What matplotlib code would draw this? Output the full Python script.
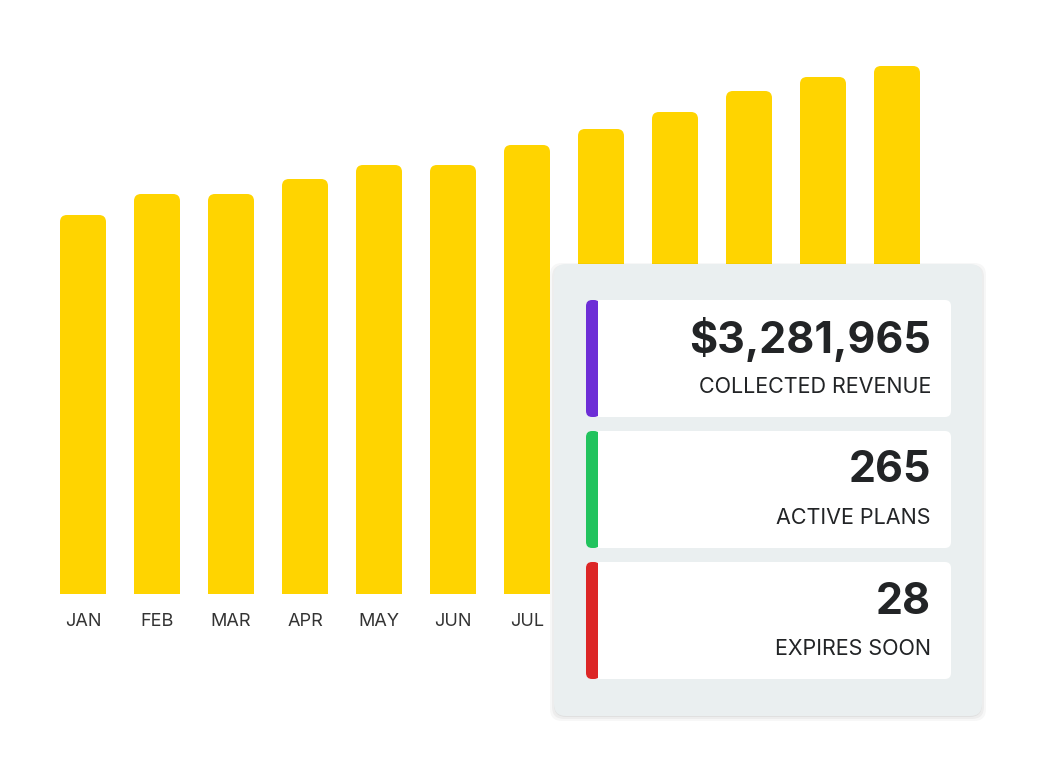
import matplotlib.pyplot as plt
from matplotlib.patches import FancyBboxPatch, Rectangle

months = ["JAN", "FEB", "MAR", "APR", "MAY", "JUN", "JUL", "AUG", "SEP", "OCT", "NOV", "DEC"]
values = [379, 400, 400, 415, 429, 429, 449, 465, 482, 503, 517, 528]
card_values = ["$3,281,965", "265", "28"]
card_labels = ["COLLECTED REVENUE", "ACTIVE PLANS", "EXPIRES SOON"]
card_colors = ["#6d2ed6", "#22c35e", "#dc2626"]

plt.rcParams['font.family'] = ['Inter', 'DejaVu Sans']

fig = plt.figure(figsize=(10.4, 7.8), dpi=100)
ax = fig.add_axes([0, 0, 1, 1])
ax.set_xlim(0, 1040)
ax.set_ylim(780, 0)
ax.axis("off")

base = 594
xs = [83 + i * 74.0 for i in range(len(months))]
bars = ax.bar(xs, [-v for v in values], bottom=base, width=46, color="#ffd400")
for b, m in zip(bars, months):
    x0, w = b.get_x(), b.get_width()
    top = base + b.get_height()
    b.set_visible(False)
    r = 7
    ax.add_patch(FancyBboxPatch((x0 + r, top + r), w - 2 * r, -b.get_height() - 2 * r,
                                boxstyle="round,pad=%d" % r, fc="#ffd400", ec="none"))
    ax.add_patch(Rectangle((x0, top + 20), w, base - top - 20, fc="#ffd400", ec="none"))
    ax.text(x0 + w / 2, 621, m, ha="center", va="center", fontsize=13, color="#333333")

# panel with soft shadow
for grow, a in [(4, 0.03), (2, 0.04), (0, 0.05)]:
    ax.add_patch(FancyBboxPatch((566 - grow, 279 - grow), 404 + 2 * grow, 426 + 2 * grow,
                                boxstyle="round,pad=12", fc="#000000", ec="none",
                                alpha=a, zorder=4))
ax.add_patch(FancyBboxPatch((566, 276), 404, 428, boxstyle="round,pad=12",
                            fc="#eaeff0", ec="none", zorder=5))
tops = [300, 431, 562]
for t, val, lab, col in zip(tops, card_values, card_labels, card_colors):
    ax.add_patch(FancyBboxPatch((592, t + 6), 353, 105, boxstyle="round,pad=6",
                                fc="white", ec="none", zorder=6))
    ax.add_patch(FancyBboxPatch((592, t + 6), 2, 105, boxstyle="round,pad=6",
                                fc=col, ec="none", zorder=7))
    ax.add_patch(Rectangle((598, t), 12, 117, fc="white", ec="none", zorder=7))
    ax.text(931, t + 40, val, ha="right", va="center", fontsize=31, fontweight="bold",
            color="#222426", zorder=8)
    ax.text(931, t + 87, lab, ha="right", va="center", fontsize=15.5, color="#222426", zorder=8)

fig.savefig("out.png", dpi=100)
